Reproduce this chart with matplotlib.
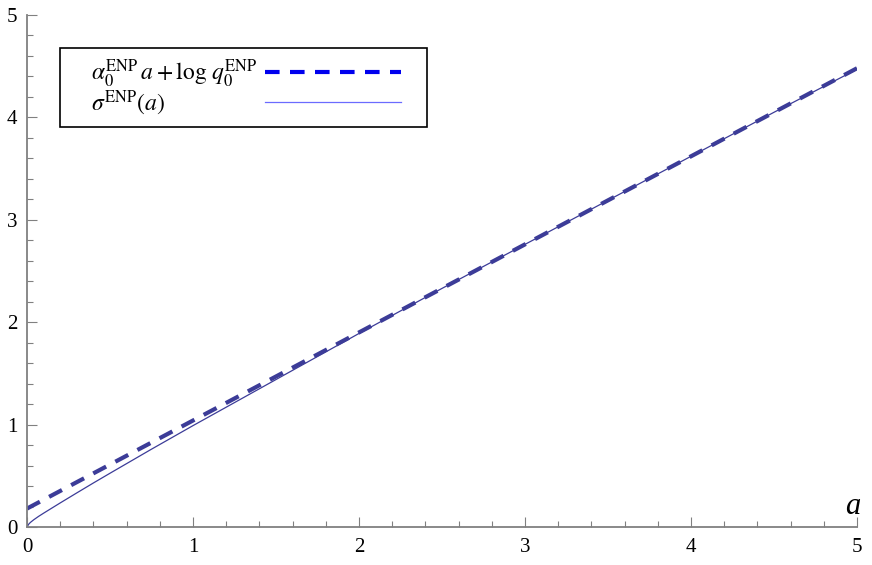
import matplotlib.pyplot as plt
from matplotlib.lines import Line2D
from matplotlib.offsetbox import DrawingArea
from matplotlib.ticker import MultipleLocator

plt.rcParams['font.family'] = ['Liberation Serif', 'DejaVu Serif']
plt.rcParams['mathtext.fontset'] = 'stix'

# linear approximation  alpha0 * a + log q0
lin_a = [0.0, 5.0]
lin_y = [0.18, 4.48]

# sigma^ENP(a)
sig_a = [0.0, 0.01, 0.02, 0.04, 0.07, 0.1, 0.15, 0.2, 0.3, 0.4, 0.5, 0.75, 1.0,
         1.5, 2.0, 2.5, 3.0, 3.5, 4.0, 4.5, 5.0]
sig_y = [0.0, 0.027, 0.044, 0.07, 0.104, 0.135, 0.185, 0.235, 0.333, 0.43, 0.525, 0.76, 0.99,
         1.44, 1.89, 2.33, 2.76, 3.19, 3.62, 4.05, 4.47]

plot_col = '#3c3c98'
axis_col = '#808080'

fig = plt.figure(figsize=(8.72, 5.65), dpi=100)
ax = fig.add_axes([27 / 872, 1 - 527 / 565, 830 / 872, 512 / 565])

ax.plot(lin_a, lin_y, color=plot_col, lw=3.0, dashes=(3.5, 2.5), dash_capstyle='butt')
ax.plot(sig_a, sig_y, color=plot_col, lw=0.9)

ax.set_xlim(0, 5)
ax.set_ylim(0, 5)
ax.xaxis.set_major_locator(MultipleLocator(1))
ax.yaxis.set_major_locator(MultipleLocator(1))
ax.xaxis.set_minor_locator(MultipleLocator(0.2))
ax.yaxis.set_minor_locator(MultipleLocator(0.2))

for s in ['top', 'right']:
    ax.spines[s].set_visible(False)
for s in ['left', 'bottom']:
    ax.spines[s].set_color(axis_col)
    ax.spines[s].set_linewidth(1.3)

ax.tick_params(which='both', direction='in', color=axis_col, width=0.8, labelsize=15)
ax.tick_params(which='major', length=7)
ax.tick_params(which='minor', length=4)
ax.tick_params(axis='x', pad=8)
ax.tick_params(axis='y', pad=7)

ax.text(0.995, 0.012, 'a', transform=ax.transAxes, ha='center', va='bottom',
        fontsize=22, style='italic')

handles = [
    Line2D([], [], color='#0000ee', lw=3.0, dashes=(3.5, 2.5)),
    Line2D([], [], color='#6b6bff', lw=0.9),
]
labels = [r'$\alpha_0^{\mathrm{ENP}}\,a+\log\,q_0^{\mathrm{ENP}}$',
          r'$\sigma^{\mathrm{ENP}}(a)$']
leg = ax.legend(handles, labels, loc='upper left', bbox_to_anchor=(0.0398, 0.9355),
                markerfirst=False, fontsize=17, handlelength=5.76, handletextpad=0.32,
                fancybox=False, edgecolor='black', framealpha=1, borderpad=0.4,
                labelspacing=-0.05, borderaxespad=0)
leg.get_frame().set_linewidth(1.2)

# extra side room inside the frame, as in the original box
hbox = leg._legend_handle_box
hbox.sep = 0
hbox.get_children().insert(0, DrawingArea(15.5, 0))
hbox.get_children().append(DrawingArea(11.5, 0))

# keep labels left aligned while the samples stay on the right
fig.canvas.draw()
r = fig.canvas.get_renderer()
ws = [t.get_window_extent(r).width for t in leg.get_texts()]
col = [c for c in hbox.get_children() if not isinstance(c, DrawingArea)][0]
for hp, w in zip(col.get_children(), ws):
    hp.sep += (max(ws) - w) * 72 / fig.dpi

fig.savefig('out.png', dpi=100)
